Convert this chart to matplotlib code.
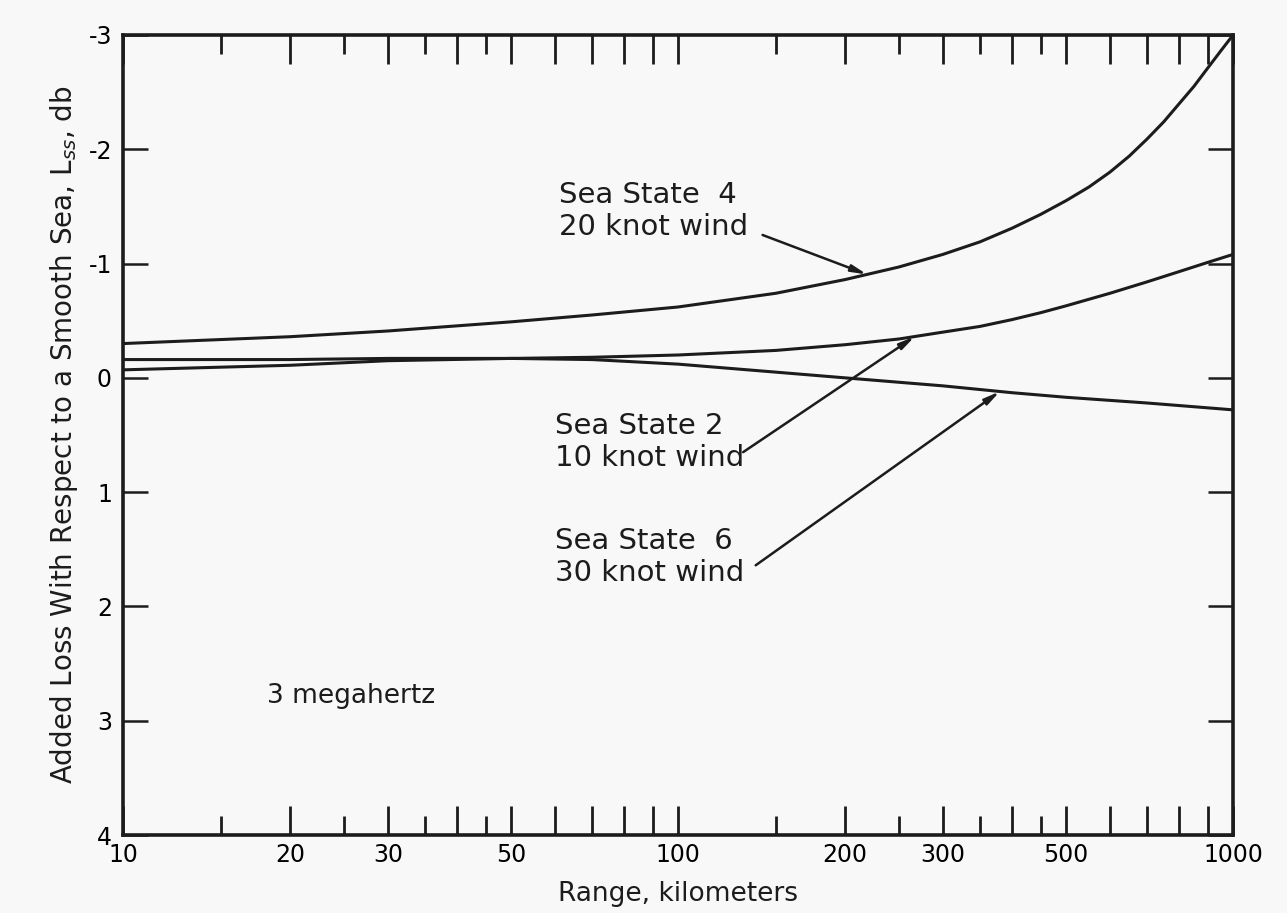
import matplotlib
matplotlib.use("Agg")
import matplotlib.pyplot as plt
import numpy as np

plt.rcParams['font.family'] = ['DejaVu Sans']
plt.rcParams['axes.unicode_minus'] = False

# ranges in km, added loss in db (negative = gain, axis drawn inverted)
range_ss4 = [10, 20, 30, 50, 70, 100, 150, 200, 250, 300, 350, 400, 450, 500, 550,
             600, 650, 700, 750, 800, 850, 900, 950, 1000]
loss_ss4 = [-0.30, -0.36, -0.41, -0.49, -0.55, -0.62, -0.74, -0.86, -0.97, -1.08,
            -1.19, -1.31, -1.43, -1.55, -1.67, -1.80, -1.94, -2.09, -2.24, -2.40,
            -2.55, -2.71, -2.86, -3.0]

range_ss2 = [10, 20, 30, 50, 70, 100, 150, 200, 250, 300, 350, 400, 450, 500, 600,
             700, 800, 900, 1000]
loss_ss2 = [-0.16, -0.16, -0.17, -0.17, -0.18, -0.20, -0.24, -0.29, -0.34, -0.40,
            -0.45, -0.51, -0.57, -0.63, -0.74, -0.84, -0.93, -1.01, -1.08]

range_ss6 = [10, 20, 30, 50, 70, 100, 150, 200, 300, 400, 500, 700, 1000]
loss_ss6 = [-0.07, -0.11, -0.15, -0.17, -0.16, -0.12, -0.05, 0.0, 0.07, 0.13,
            0.17, 0.22, 0.28]

xtick_vals = [10, 20, 30, 40, 50, 60, 70, 80, 90, 100, 200, 300, 400, 500, 600,
              700, 800, 900, 1000]
xtick_labels = ['10', '20', '30', '', '50', '', '', '', '', '100', '200', '300',
                '', '500', '', '', '', '', '1000']
xtick_half = [15, 25, 35, 45, 150, 250, 350, 450]
ytick_vals = [-3, -2, -1, 0, 1, 2, 3, 4]

ink = '#1c1c1c'

fig = plt.figure(figsize=(12.87, 9.13), dpi=100)
fig.patch.set_facecolor('#f8f8f8')
ax = fig.add_axes([0.0956, 0.0854, 0.8625, 0.8763])
ax.set_facecolor('#f8f8f8')

ax.plot(range_ss4, loss_ss4, color=ink, lw=2.2)
ax.plot(range_ss2, loss_ss2, color=ink, lw=2.2)
ax.plot(range_ss6, loss_ss6, color=ink, lw=2.2)

ax.set_xscale('log')
ax.set_xlim(10, 1000)
ax.set_ylim(4, -3)

ax.set_xticks(xtick_vals)
ax.set_xticklabels(xtick_labels)
ax.set_xticks(xtick_half, minor=True)
ax.xaxis.set_minor_formatter(matplotlib.ticker.NullFormatter())
ax.set_yticks(ytick_vals)
ax.set_yticklabels([str(v) for v in ytick_vals])

ax.tick_params(axis='x', which='major', direction='in', top=True, bottom=True,
               length=21, width=2, color=ink, labelsize=17, pad=6)
ax.tick_params(axis='x', which='minor', direction='in', top=True, bottom=True,
               length=14, width=2, color=ink)
ax.tick_params(axis='y', which='both', direction='in', left=True, right=True,
               length=18, width=1.8, color=ink, labelsize=17, pad=8)
ax.yaxis.set_minor_locator(matplotlib.ticker.NullLocator())

for s in ax.spines.values():
    s.set_linewidth(2.6)
    s.set_color(ink)

ax.set_xlabel('Range, kilometers', fontsize=19, color=ink, labelpad=10)
ax.set_ylabel('Added Loss With Respect to a Smooth Sea, L$_{ss}$, db',
              fontsize=20, color=ink, labelpad=6)


def on_curve(xs, ys, x):
    return float(np.interp(np.log10(x), np.log10(xs), ys))


arrow = dict(arrowstyle='-|>,head_length=0.9,head_width=0.2', color=ink, lw=1.8,
             shrinkA=0, shrinkB=0)
txt = dict(fontsize=21, color=ink, ha='left', va='center', linespacing=1.2)

ax.text(61, -1.46, 'Sea State  4\n20 knot wind', **txt)
ax.annotate('', xy=(219, on_curve(range_ss4, loss_ss4, 219)), xytext=(142, -1.25),
            arrowprops=arrow)

ax.text(60, 0.56, 'Sea State 2\n10 knot wind', **txt)
ax.annotate('', xy=(267, on_curve(range_ss2, loss_ss2, 267)), xytext=(131, 0.65),
            arrowprops=arrow)

ax.text(60, 1.57, 'Sea State  6\n30 knot wind', **txt)
ax.annotate('', xy=(380, on_curve(range_ss6, loss_ss6, 380)), xytext=(138, 1.64),
            arrowprops=arrow)

ax.text(18.2, 2.78, '3 megahertz', fontsize=19, color=ink, ha='left', va='center')

fig.savefig('out.png', dpi=100, facecolor=fig.get_facecolor())
